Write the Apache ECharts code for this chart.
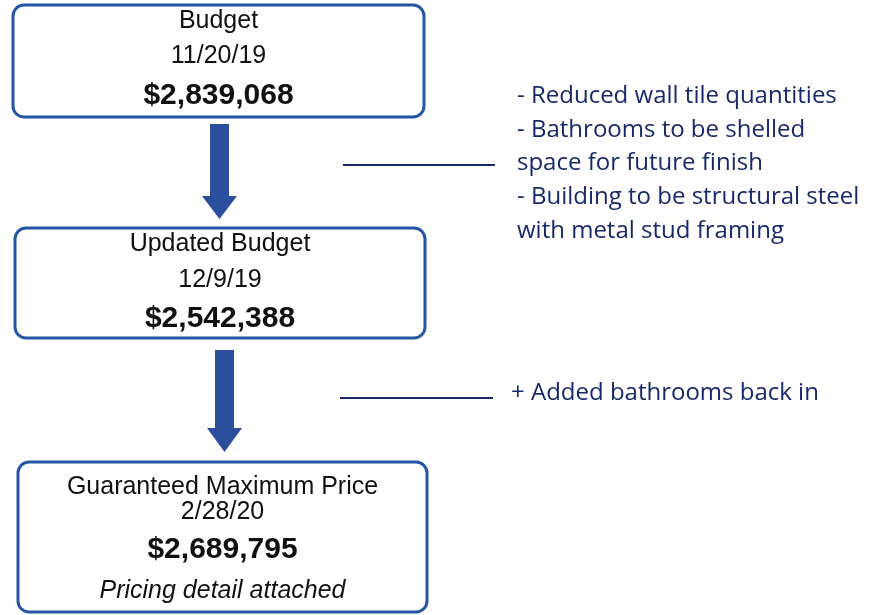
<!DOCTYPE html>
<html>
<head>
<meta charset="utf-8">
<script src="https://cdn.jsdelivr.net/npm/echarts@6/dist/echarts.min.js"></script>
<style>
  html, body { margin: 0; padding: 0; background: #fff; }
  #main { width: 873px; height: 615px; }
</style>
</head>
<body>
<div id="main"></div>
<script>
// stages of the budget
var stageTitles = ['Budget', 'Updated Budget', 'Guaranteed Maximum Price'];
var stageDates = ['11/20/19', '12/9/19', '2/28/20'];
var stageAmounts = ['$2,839,068', '$2,542,388', '$2,689,795'];
var stageFootnotes = ['', '', 'Pricing detail attached'];

// notes between the stages
var changeNotes = [
  ['- Reduced wall tile quantities', '- Bathrooms to be shelled', 'space for future finish', '- Building to be structural steel', 'with metal stud framing'],
  ['+ Added bathrooms back in']
];

var boxColor = '#2456a6';
var arrowColor = '#2b4f9c';
var noteColor = '#172968';

// layout
var boxes = [
  { x: 13, y: 5, w: 411, h: 112, rows: [21, 56, 96, null] },
  { x: 15, y: 228, w: 410, h: 110, rows: [244, 280, 319, null] },
  { x: 18, y: 462, w: 409, h: 150, rows: [487, 512, 550, 591] }
];
var arrows = [
  { cx: 219.5, top: 124, neck: 196, tip: 219 },
  { cx: 224.5, top: 350, neck: 428, tip: 452 }
];
var links = [
  { x1: 343, x2: 495, y: 165, textX: 517, textY: 96 },
  { x1: 340, x2: 493, y: 398, textX: 511, textY: 393 }
];

var elements = [];

boxes.forEach(function (b, i) {
  elements.push({
    type: 'rect',
    shape: { x: b.x, y: b.y, width: b.w, height: b.h, r: 11 },
    style: { fill: '#fff', stroke: boxColor, lineWidth: 3 }
  });
  var cx = b.x + b.w / 2;
  var texts = [stageTitles[i], stageDates[i], stageAmounts[i], stageFootnotes[i]];
  texts.forEach(function (t, k) {
    if (!t || b.rows[k] == null) return;
    elements.push({
      type: 'text',
      x: cx, y: b.rows[k],
      style: {
        text: t,
        fill: '#111',
        fontFamily: 'Liberation Sans, Arial, sans-serif',
        fontSize: k === 2 ? 30 : 25,
        fontWeight: k === 2 ? 'bold' : 'normal',
        fontStyle: k === 3 ? 'italic' : 'normal',
        align: 'center',
        verticalAlign: 'middle'
      }
    });
  });
});

arrows.forEach(function (a) {
  var sw = 9.5, hw = 17.5;
  elements.push({
    type: 'polygon',
    shape: {
      points: [
        [a.cx - sw, a.top], [a.cx + sw, a.top], [a.cx + sw, a.neck],
        [a.cx + hw, a.neck], [a.cx, a.tip], [a.cx - hw, a.neck], [a.cx - sw, a.neck]
      ]
    },
    style: { fill: arrowColor }
  });
});

links.forEach(function (l, i) {
  elements.push({
    type: 'line',
    shape: { x1: l.x1, y1: l.y, x2: l.x2, y2: l.y },
    style: { stroke: noteColor, lineWidth: 2 }
  });
  changeNotes[i].forEach(function (line, k) {
    elements.push({
      type: 'text',
      x: l.textX, y: l.textY + k * 33.8,
      style: {
        text: line,
        fill: noteColor,
        fontFamily: 'Open Sans, sans-serif',
        fontSize: 24,
        align: 'left',
        verticalAlign: 'middle'
      }
    });
  });
});

var myChart = echarts.init(document.getElementById('main'));
myChart.setOption({
  backgroundColor: '#fff',
  animation: false,
  graphic: { elements: elements }
});
</script>
</body>
</html>
